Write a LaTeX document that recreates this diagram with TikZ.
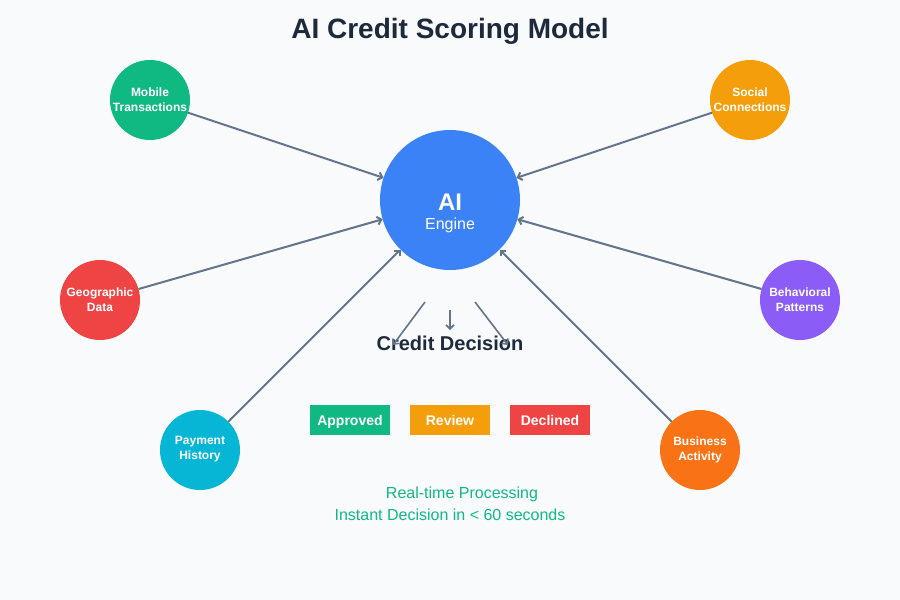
\documentclass[tikz,border=0pt]{standalone}
\usepackage{fontspec}
\setmainfont{Liberation Sans}
\usetikzlibrary{arrows.meta}
\definecolor{bg}{HTML}{F8FAFC}
\definecolor{dark}{HTML}{1E293B}
\definecolor{arr}{HTML}{64748B}
\definecolor{cgreen}{HTML}{10B981}
\definecolor{camber}{HTML}{F59E0B}
\definecolor{cred}{HTML}{EF4444}
\definecolor{cpurple}{HTML}{8B5CF6}
\definecolor{ccyan}{HTML}{06B6D4}
\definecolor{corange}{HTML}{F97316}
\definecolor{cblue}{HTML}{3B82F6}
\tikzset{
  src/.style={circle, fill=#1, minimum size=80pt, inner sep=0pt, outer sep=0pt},
  srctext/.style={text=white, font=\fontsize{12}{15}\selectfont\bfseries, align=center},
  flow/.style={draw=arr, line width=2pt, -{Straight Barb[length=4pt,width=8pt]}},
  badge/.style={fill=#1, minimum width=80pt, minimum height=30pt, inner sep=0pt,
    text=white, text height=12pt, text depth=2pt, font=\fontsize{14}{16}\selectfont\bfseries},
}
\begin{document}
\begin{tikzpicture}[x=1pt,y=-1pt]
\fill[bg] (0,0) rectangle (900,600);
\useasboundingbox (0,0) rectangle (900,600);
\node[font=\fontsize{28}{32}\selectfont\bfseries, text=dark] (title) at (450,31) {AI Credit Scoring Model};
\node[circle, fill=cblue, minimum size=140pt, inner sep=0pt, outer sep=0pt] (ai) at (450,200) {};
\node[text=white, font=\fontsize{24}{28}\selectfont\bfseries] (ait) at (450,202) {AI};
\node[text=white, font=\fontsize{16}{19}\selectfont] (aie) at (450,225.5) {Engine};
\node[src=cgreen] (mob) at (150,100) {};
\node[src=camber] (soc) at (750,100) {};
\node[src=cred] (geo) at (100,300) {};
\node[src=cpurple] (beh) at (800,300) {};
\node[src=ccyan] (pay) at (200,450) {};
\node[src=corange] (bus) at (700,450) {};
\node[srctext] (mobt) at (150,99.5) {Mobile\\Transactions};
\node[srctext] (soct) at (750,99.5) {Social\\Connections};
\node[srctext] (geot) at (100,299.5) {Geographic\\Data};
\node[srctext] (beht) at (800,299.5) {Behavioral\\Patterns};
\node[srctext] (payt) at (200,449.5) {Payment\\History};
\node[srctext] (bust) at (700,449.5) {Business\\Activity};
\foreach \s in {mob,soc,geo,beh,pay,bus} \draw[flow] (\s) -- (ai);
\node[font=\fontsize{20}{24}\selectfont\bfseries, text=dark] (cd) at (450,343) {Credit Decision};
\coordinate (l1) at (425,302); \coordinate (l2) at (393,345);
\coordinate (m1) at (450,310); \coordinate (m2) at (450,330);
\coordinate (r1) at (475,302); \coordinate (r2) at (508,345);
\draw[flow, line width=1.6pt] (l1) -- (l2);
\draw[flow, line width=1.6pt] (m1) -- (m2);
\draw[flow, line width=1.6pt] (r1) -- (r2);
\node[badge=cgreen] (ap) at (350,420) {Approved};
\node[badge=camber] (rv) at (450,420) {Review};
\node[badge=cred] (dc) at (550,420) {Declined};
\node[font=\fontsize{16}{19}\selectfont, text=cgreen] (rt) at (462,494) {Real-time Processing};
\node[font=\fontsize{16}{19}\selectfont, text=cgreen] (id) at (450,515) {Instant Decision in < 60 seconds};
\end{tikzpicture}
\end{document}
